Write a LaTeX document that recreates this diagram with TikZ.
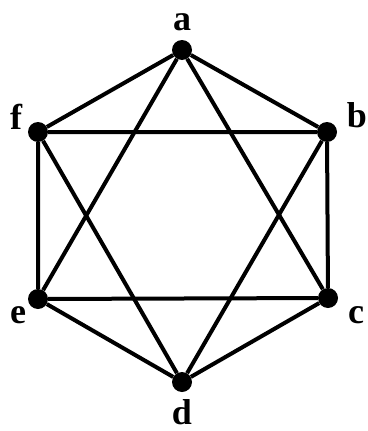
\documentclass[tikz,border=0pt]{standalone}
\usepackage{fontspec}
\setmainfont{Liberation Serif}
\begin{document}
\begin{tikzpicture}[x=1pt,y=-1pt,
  vtx/.style={circle,fill=black,inner sep=0pt,minimum size=20pt},
  lab/.style={font=\fontsize{36}{36}\selectfont\bfseries,inner sep=0pt},
  edge/.style={line width=4pt}]
\useasboundingbox (0,0) rectangle (367,431);
\node[vtx] (a) at (182,50) {};
\node[vtx] (b) at (327,132) {};
\node[vtx] (c) at (328,298) {};
\node[vtx] (d) at (182,382) {};
\node[vtx] (e) at (38,299) {};
\node[vtx] (f) at (38,132) {};
\node[lab] (la) at (182,22) {a};
\node[lab] (lb) at (357,115) {b};
\node[lab] (lc) at (356,315) {c};
\node[lab] (ld) at (182,412) {d};
\node[lab] (le) at (18,315) {e};
\node[lab] (lf) at (16,117) {f};
\draw[edge] (a) -- (b) -- (c) -- (d) -- (e) -- (f) -- (a);
\draw[edge] (a) -- (c) -- (e) -- (a);
\draw[edge] (b) -- (d) -- (f) -- (b);
\end{tikzpicture}
\end{document}
